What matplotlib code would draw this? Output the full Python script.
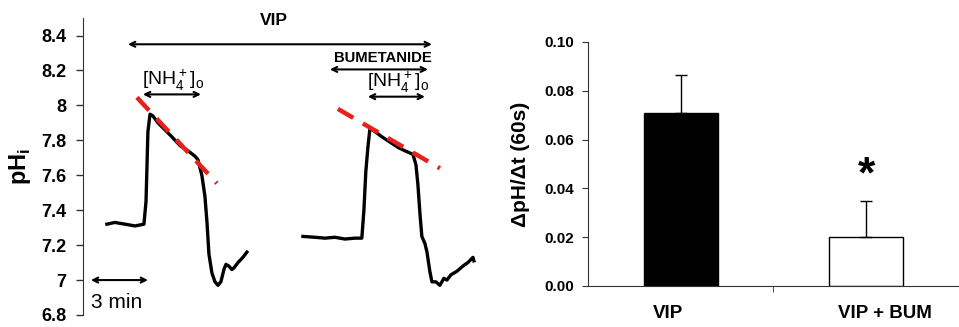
import matplotlib
matplotlib.use("Agg")
import matplotlib.pyplot as plt

plt.rcParams['font.family'] = ['Liberation Sans', 'DejaVu Sans']
plt.rcParams['mathtext.fontset'] = 'custom'
plt.rcParams['mathtext.rm'] = 'Liberation Sans'
plt.rcParams['mathtext.bf'] = 'Liberation Sans:bold'

# --- left panel: pHi traces (time in min) ---
t1 = [1.26, 1.68, 2.21, 2.74, 3.21, 3.32, 3.42, 3.53, 3.68, 3.95, 4.32, 4.68,
      5.11, 5.53, 5.89, 6.05, 6.26, 6.42, 6.53, 6.63, 6.79, 6.95, 7.11, 7.26,
      7.42, 7.53, 7.68, 7.84, 7.95, 8.16, 8.42, 8.63]
ph1 = [7.32, 7.33, 7.32, 7.31, 7.32, 7.45, 7.85, 7.95, 7.94, 7.90, 7.86, 7.82,
       7.77, 7.74, 7.71, 7.69, 7.60, 7.48, 7.33, 7.15, 7.04, 6.99, 6.97, 6.99,
       7.06, 7.09, 7.08, 7.06, 7.07, 7.10, 7.13, 7.16]
t2 = [11.58, 12.21, 12.74, 13.26, 13.79, 14.32, 14.68, 14.79, 14.89, 15.0,
      15.11, 15.37, 15.74, 16.16, 16.58, 16.95, 17.37, 17.53, 17.63, 17.74,
      17.84, 18.0, 18.11, 18.26, 18.37, 18.58, 18.79, 19.0, 19.16, 19.37,
      19.68, 20.0, 20.26, 20.53, 20.58]
ph2 = [7.25, 7.245, 7.24, 7.245, 7.235, 7.24, 7.24, 7.40, 7.62, 7.76,
       7.87, 7.85, 7.82, 7.79, 7.76, 7.74, 7.72, 7.66, 7.55, 7.38,
       7.25, 7.21, 7.16, 7.05, 6.99, 6.99, 6.97, 7.01, 7.00, 7.03,
       7.05, 7.08, 7.10, 7.13, 7.11]
fit1_t = [2.84, 7.05]
fit1_ph = [8.046, 7.554]
fit2_t = [13.42, 18.79]
fit2_ph = [7.98, 7.64]
ph_ticks = [6.8, 7.0, 7.2, 7.4, 7.6, 7.8, 8.0, 8.2, 8.4]
ph_ticklabels = ['6.8', '7', '7.2', '7.4', '7.6', '7.8', '8', '8.2', '8.4']

# --- right panel: bars ---
groups = ['VIP', 'VIP + BUM']
rates = [0.071, 0.020]
errs = [0.0155, 0.015]
bar_colors = ['black', 'white']

fig = plt.figure(figsize=(9.59, 3.27), dpi=100)

ax1 = fig.add_axes([0.0865, 0.0367, 0.414, 0.908])
ax1.plot(t1, ph1, color='black', lw=2.4)
ax1.plot(t2, ph2, color='black', lw=2.4)
ax1.plot(fit1_t, fit1_ph, color='#e8201c', lw=3.2, dashes=(4, 2.5))
ax1.plot(fit2_t, fit2_ph, color='#e8201c', lw=3.2, dashes=(4, 2.5))
ax1.set_xlim(0, 20.9)
ax1.set_ylim(6.8, 8.5)
ax1.set_yticks(ph_ticks)
ax1.set_yticklabels(ph_ticklabels, fontsize=13, fontweight='bold')
ax1.tick_params(axis='y', direction='out', length=5, width=1, color='#333333', pad=7)
for s in ['top', 'right', 'bottom']:
    ax1.spines[s].set_visible(False)
ax1.spines['left'].set_color('#333333')
ax1.set_xticks([])
ax1.set_ylabel('pH$_\\mathbf{i}$', fontsize=17, fontweight='bold', labelpad=6)


def dbl_arrow(ax, x0, x1, y):
    ax.annotate('', xy=(x0, y), xytext=(x1, y),
                arrowprops=dict(arrowstyle='<->', color='black', lw=1.5,
                                mutation_scale=9, shrinkA=0, shrinkB=0),
                annotation_clip=False)


nh4 = '[NH$_4^+$]$_\\mathrm{o}$'
dbl_arrow(ax1, 2.37, 18.37, 8.35)
ax1.text(10.05, 8.486, 'VIP', ha='center', va='center', fontsize=12.5, fontweight='bold', clip_on=False)
dbl_arrow(ax1, 13.0, 18.16, 8.206)
ax1.text(15.79, 8.274, 'BUMETANIDE', ha='center', va='center', fontsize=10.7, fontweight='bold')
dbl_arrow(ax1, 3.16, 6.21, 8.063)
ax1.text(4.74, 8.145, nh4, ha='center', va='center', fontsize=14)
dbl_arrow(ax1, 15.0, 18.0, 8.05)
ax1.text(16.58, 8.13, nh4, ha='center', va='center', fontsize=14)
dbl_arrow(ax1, 0.42, 3.42, 7.0)
ax1.text(0.42, 6.87, '3 min', ha='left', va='center', fontsize=15)

ax2 = fig.add_axes([0.613, 0.1254, 0.387, 0.7462])
ax2.bar([0.5, 1.5], rates, width=0.4, color=bar_colors, edgecolor='black', lw=1)
ax2.errorbar([0.5, 1.5], rates, yerr=[[0, 0], errs], fmt='none', ecolor='black',
             elinewidth=1, capsize=4, capthick=1)
ax2.text(1.5, 0.045, '*', ha='center', va='center', fontsize=32, fontweight='bold')
ax2.set_xlim(0, 2)
ax2.set_ylim(0, 0.10)
ax2.set_yticks([0, 0.02, 0.04, 0.06, 0.08, 0.10])
ax2.set_yticklabels(['0.00', '0.02', '0.04', '0.06', '0.08', '0.10'], fontsize=11, fontweight='bold')
ax2.set_xticks([0.43, 1.6])
ax2.set_xticklabels(groups, fontsize=13.5, fontweight='bold')
ax2.set_xticks([1.0], minor=True)
ax2.tick_params(axis='x', which='major', length=0, pad=14)
ax2.tick_params(axis='x', which='minor', length=4, direction='out', color='#333333')
ax2.tick_params(axis='y', direction='out', length=4, color='#333333', pad=6)
for s in ['top', 'right']:
    ax2.spines[s].set_visible(False)
for s in ['left', 'bottom']:
    ax2.spines[s].set_color('#333333')
ax2.set_ylabel('ΔpH/Δt (60s)', fontsize=15, fontweight='bold', labelpad=10)

fig.savefig('out.png', dpi=100)
